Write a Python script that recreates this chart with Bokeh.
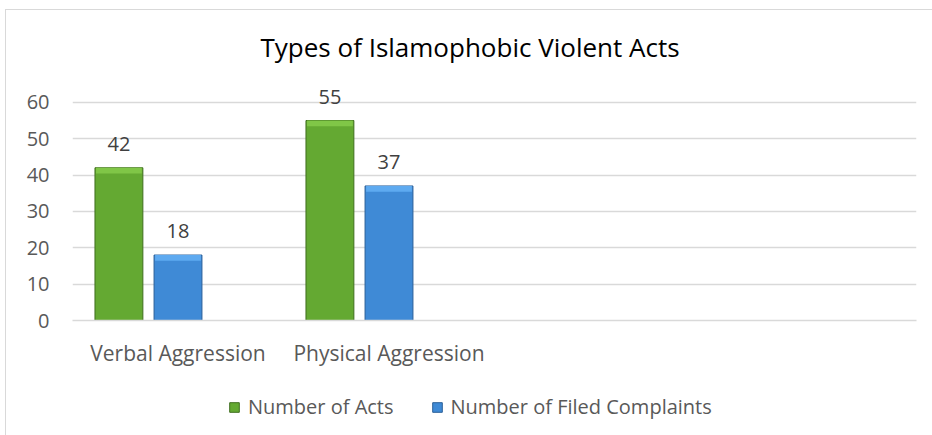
from bokeh.plotting import figure
from bokeh.models import ColumnDataSource, FactorRange, Legend, LegendItem, LabelSet, Range1d
from bokeh.layouts import column
from bokeh.core.properties import value
from bokeh.transform import dodge
from bokeh.embed import file_html
from bokeh.resources import INLINE

# ---- data ----
categories = ["Verbal Aggression", "Physical Aggression", " ", "  "]
groups = ["Verbal Aggression", "Physical Aggression"]
acts = [42, 55]
complaints = [18, 37]
y_ticks = [0, 10, 20, 30, 40, 50, 60]
series_names = ["Number of Acts", "Number of Filed Complaints"]
title_text = "Types of Islamophobic Violent Acts"

FONT = "Open Sans"
GREEN, GREEN_EDGE, GREEN_TOP = "#64a932", "#3f6e1f", "#80c647"
BLUE, BLUE_EDGE, BLUE_TOP = "#3f8ad6", "#2a5f98", "#5eaaf0"

src = ColumnDataSource(dict(
    x=groups, acts=acts, complaints=complaints,
    acts_lbl=[str(v) for v in acts], comp_lbl=[str(v) for v in complaints],
    acts_hi=[v - 1.6 for v in acts], comp_hi=[v - 1.6 for v in complaints],
))

p = figure(
    x_range=FactorRange(*categories, range_padding=0),
    y_range=Range1d(0, 66),
    frame_width=844, frame_height=240,
    output_backend="svg", toolbar_location=None,
    min_border_left=66, min_border_right=16, min_border_top=69, min_border_bottom=61,
)

p.title.text = title_text
p.title.align = "left"
p.title.offset = 188
p.title.text_font = FONT
p.title.text_font_size = "26px"
p.title.text_font_style = "normal"
p.title.text_color = "#000000"
p.title.standoff = 32

p.outline_line_color = None
p.background_fill_color = "white"
p.border_fill_color = "white"

W = 0.227
OFF = -0.28


def draw_bars(fig):
    a = fig.vbar(x=dodge("x", OFF, range=fig.x_range), top="acts", width=W, source=src,
                 fill_color=GREEN, line_color=GREEN_EDGE, line_width=1)
    fig.vbar(x=dodge("x", OFF, range=fig.x_range), top="acts", bottom="acts_hi", width=W - 0.01,
             source=src, fill_color=GREEN_TOP, line_color=None)
    b = fig.vbar(x=dodge("x", 0, range=fig.x_range), top="complaints", width=W, source=src,
                 fill_color=BLUE, line_color=BLUE_EDGE, line_width=1)
    fig.vbar(x=dodge("x", 0, range=fig.x_range), top="complaints", bottom="comp_hi", width=W - 0.01,
             source=src, fill_color=BLUE_TOP, line_color=None)
    return a, b


draw_bars(p)

for col, lbl, off in (("acts", "acts_lbl", OFF), ("complaints", "comp_lbl", 0)):
    p.add_layout(LabelSet(x=dodge("x", off, range=p.x_range), y=col, text=lbl, source=src,
                          y_offset=24, text_align="center", text_baseline="middle",
                          text_font=value(FONT), text_font_size=value("20px"),
                          text_color=value("#404040")))

p.xgrid.grid_line_color = None
p.ygrid.grid_line_color = "#d9d9d9"
p.ygrid.grid_line_width = 1.5
p.yaxis.ticker = y_ticks
p.yaxis.axis_line_color = None
p.yaxis.major_tick_line_color = None
p.yaxis.minor_tick_line_color = None
p.yaxis.major_tick_out = 0
p.yaxis.major_tick_in = 0
p.yaxis.major_label_text_font = FONT
p.yaxis.major_label_text_font_size = "20px"
p.yaxis.major_label_text_color = "#595959"
p.yaxis.major_label_standoff = 23

p.xaxis.axis_line_color = "#d9d9d9"
p.xaxis.axis_line_width = 1.5
p.xaxis.major_tick_line_color = None
p.xaxis.minor_tick_line_color = None
p.xaxis.major_tick_out = 0
p.xaxis.major_tick_in = 0
p.xaxis.major_label_text_font = FONT
p.xaxis.major_label_text_font_size = "21px"
p.xaxis.major_label_text_color = "#595959"
p.xaxis.major_label_standoff = 18

# ---- legend strip (separate figure below the chart; its bars lie outside its view) ----
pl = figure(
    x_range=FactorRange(*categories, range_padding=0),
    y_range=Range1d(1000, 1001),
    frame_width=926, frame_height=55,
    output_backend="svg", toolbar_location=None,
    x_axis_location=None, y_axis_location=None,
    min_border_left=0, min_border_right=0, min_border_top=0, min_border_bottom=0,
)
pl.outline_line_color = None
pl.xgrid.grid_line_color = None
pl.ygrid.grid_line_color = None
pl.background_fill_color = "white"
pl.border_fill_color = "white"
la, lb = draw_bars(pl)

legend = Legend(items=[LegendItem(label=series_names[0], renderers=[la]),
                       LegendItem(label=series_names[1], renderers=[lb])],
                orientation="horizontal", location=(222, 16),
                label_text_font=FONT, label_text_font_size="20px", label_text_color="#595959",
                glyph_width=12, glyph_height=12, spacing=37, label_standoff=8,
                border_line_color=None, background_fill_alpha=0, margin=0, padding=0)
pl.add_layout(legend, "center")

layout = column(p, pl, spacing=0)
layout.margin = (9, 0, 0, 5)
layout.styles = {"border-left": "1px solid #d9d9d9", "border-top": "1px solid #d9d9d9"}
open("out.html", "w").write(file_html(layout, INLINE))
